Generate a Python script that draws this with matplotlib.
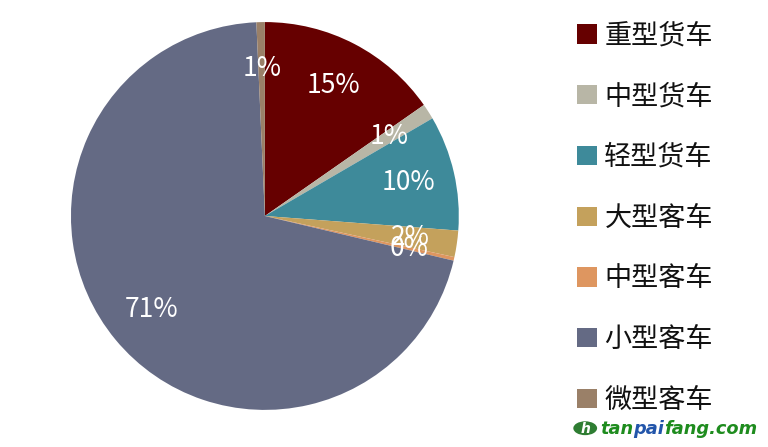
import matplotlib.pyplot as plt
from matplotlib.patches import Circle

plt.rcParams['font.family'] = ['Noto Sans CJK SC', 'DejaVu Sans']

labels = ['重型货车', '中型货车', '轻型货车', '大型客车', '中型客车', '小型客车', '微型客车']
shares = [15.3, 1.3, 9.6, 2.2, 0.3, 70.6, 0.7]
colors = ['#660000', '#B8B6A6', '#3E8A9A', '#C4A15C', '#DE9660', '#646A84', '#9A8068']

fig = plt.figure(figsize=(7.68, 4.47), dpi=100)
ax = fig.add_axes([0.0924, 0.0828, 0.505, 0.868])

wedges, texts, autotexts = ax.pie(
    shares, colors=colors, startangle=90, counterclock=False,
    autopct='%.0f%%', pctdistance=0.76, radius=1.0,
    wedgeprops=dict(linewidth=0),
    textprops=dict(color='white', fontsize=19))
ax.set_xlim(-1, 1)
ax.set_ylim(-1, 1)
ax.set_aspect('equal')

leg = fig.legend(wedges, labels, loc='upper left', bbox_to_anchor=(0.72, 1.004),
                 frameon=False, fontsize=19.5, handlelength=0.72, handleheight=0.72,
                 handletextpad=0.28, labelspacing=1.245)
for t in leg.get_texts():
    t.set_color('#111111')

# watermark
fig.patches.append(Circle((0.762, 0.042), 0.0155, transform=fig.transFigure,
                          facecolor='#2E7D32', edgecolor='none'))
fig.text(0.762, 0.041, 'h', color='white', fontsize=10, fontweight='bold',
         style='italic', ha='center', va='center', family='DejaVu Sans')
fig.canvas.draw()
r = fig.canvas.get_renderer()
x = 0.781
for s, c in [('tan', '#1E8C1E'), ('pai', '#2255AA'), ('fang.com', '#1E8C1E')]:
    t = fig.text(x, 0.041, s, color=c, fontsize=12.8, fontweight='bold',
                 style='italic', va='center', family='DejaVu Sans')
    x += t.get_window_extent(r).width / fig.bbox.width

fig.savefig('out.png', dpi=100)
